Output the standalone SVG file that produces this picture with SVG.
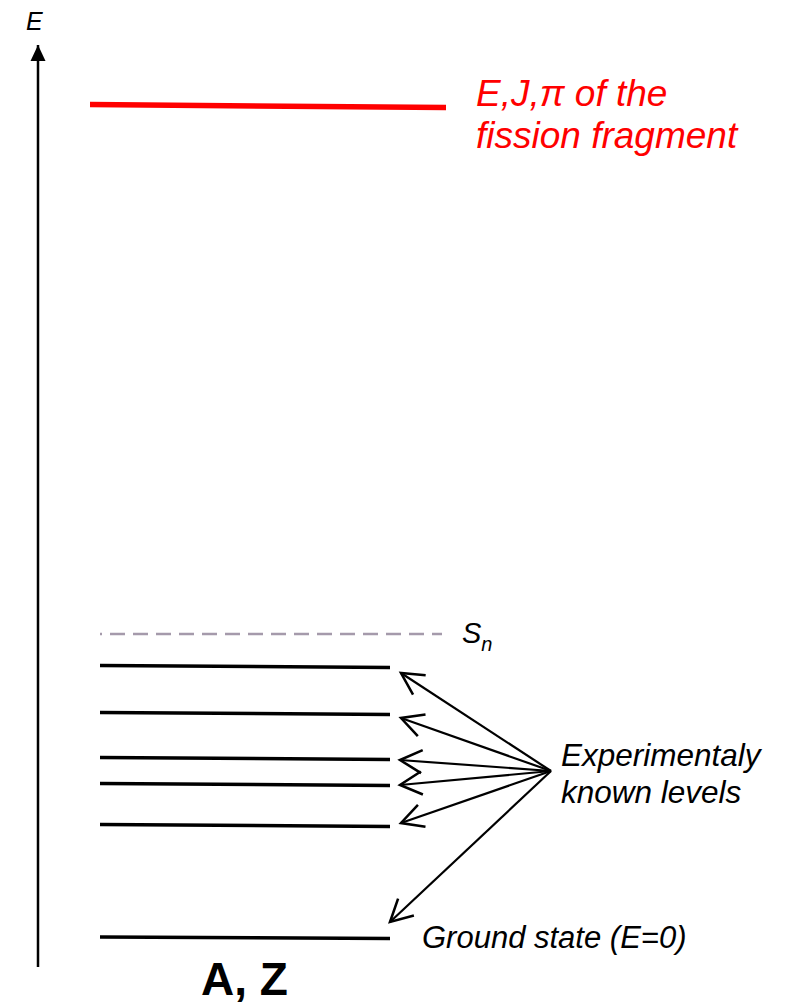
<svg xmlns="http://www.w3.org/2000/svg" width="793" height="1004" viewBox="0 0 793 1004">
<defs>
<style>
.t{font-family:"Liberation Sans",Arial,sans-serif;font-style:italic;fill:#000}
.lvl{stroke:#000;stroke-width:3.5;fill:none}
.arr{stroke:#000;stroke-width:2.2;fill:none;marker-end:url(#open)}
</style>
<marker id="open" markerUnits="userSpaceOnUse" markerWidth="30" markerHeight="30" refX="0" refY="0" viewBox="-22 -12 26 24" orient="auto">
<path d="M-19,-10 L0,0 L-19,10" fill="none" stroke="#000" stroke-width="2.2"/>
</marker>
<marker id="solid" markerUnits="userSpaceOnUse" markerWidth="20" markerHeight="20" refX="0" refY="0" viewBox="-18 -9 20 18" orient="auto">
<path d="M-16,-7.5 L0,0 L-16,7.5 Z" fill="#000"/>
</marker>
</defs>
<g id="axis">
<line x1="38" y1="967" x2="38" y2="45" stroke="#000" stroke-width="2.5" marker-end="url(#solid)"/>
<text class="t" x="26" y="30" font-size="25">E</text>
</g>
<g id="fragment">
<line x1="90" y1="104.5" x2="446" y2="107.5" stroke="#ff0000" stroke-width="5.5"/>
<text class="t" x="476" y="106" font-size="37" style="fill:#ff0000">E,J,π of the</text>
<text class="t" x="476" y="148" font-size="37" style="fill:#ff0000">fission fragment</text>
</g>
<g id="sn">
<line x1="100" y1="634" x2="442" y2="634" stroke="#a59aab" stroke-width="2.5" stroke-dasharray="15 8" stroke-dashoffset="13"/>
<text class="t" x="462" y="643" font-size="29">S<tspan font-size="20" dy="8">n</tspan></text>
</g>
<g id="levels">
<line class="lvl" x1="100" y1="665.5" x2="390" y2="667.5"/>
<line class="lvl" x1="100" y1="712.5" x2="390" y2="714.5"/>
<line class="lvl" x1="100" y1="757.5" x2="390" y2="759.5"/>
<line class="lvl" x1="100" y1="783.5" x2="390" y2="785.5"/>
<line class="lvl" x1="100" y1="824.5" x2="390" y2="826.5"/>
</g>
<g id="ground">
<line class="lvl" x1="100" y1="937" x2="390" y2="938.5"/>
<text class="t" x="422" y="948" font-size="31">Ground state (E=0)</text>
</g>
<g id="label">
<text class="t" x="561" y="766" font-size="31.5">Experimentaly</text>
<text class="t" x="561" y="803" font-size="31.5">known levels</text>
</g>
<g id="connectors">
<line class="arr" x1="551" y1="771" x2="401" y2="673"/>
<line class="arr" x1="551" y1="771" x2="401" y2="718"/>
<line class="arr" x1="551" y1="771" x2="400" y2="760"/>
<line class="arr" x1="551" y1="771" x2="400" y2="785"/>
<line class="arr" x1="551" y1="771" x2="401" y2="823"/>
<line class="arr" x1="551" y1="771" x2="390" y2="922"/>
</g>
<g id="az">
<text x="201" y="995" font-family="Liberation Sans,Arial,sans-serif" font-weight="bold" font-size="46">A, Z</text>
</g>
</svg>
